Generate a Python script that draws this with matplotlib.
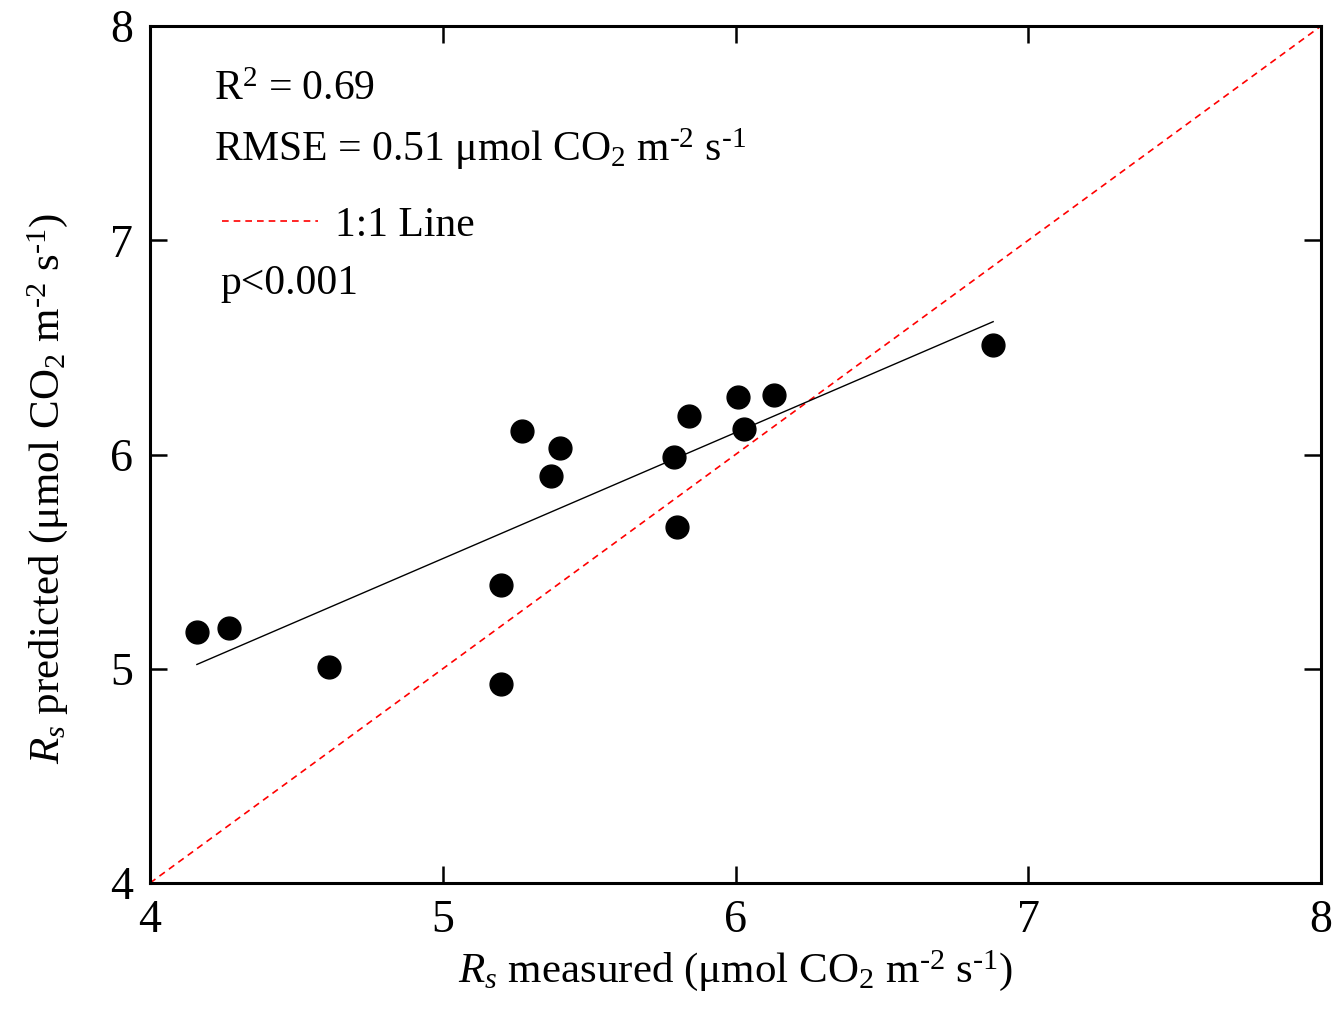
import numpy as np
import matplotlib
matplotlib.use("Agg")
import matplotlib.pyplot as plt

plt.rcParams['font.family'] = ['Liberation Serif', 'DejaVu Serif']
plt.rcParams['mathtext.fontset'] = 'custom'
plt.rcParams['mathtext.rm'] = 'Liberation Serif'
plt.rcParams['mathtext.it'] = 'Liberation Serif:italic'

# measured vs predicted Rs
measured = [4.16, 4.27, 4.61, 5.20, 5.20, 5.27, 5.37, 5.40, 5.79, 5.80, 5.84, 6.01, 6.03, 6.13, 6.88]
predicted = [5.17, 5.19, 5.01, 5.39, 4.93, 6.11, 5.90, 6.03, 5.99, 5.66, 6.18, 6.27, 6.12, 6.28, 6.51]

# regression line ends
fit_x = [4.16, 6.88]
fit_y = [5.02, 6.62]

one_to_one = [4, 8]

units = r'($\mathrm{\mu}$mol CO$_2$ m$^{\mathrm{‐}2}$ s$^{\mathrm{‐}1}$)'

fig = plt.figure(figsize=(13.41, 10.09), dpi=100)
ax = fig.add_axes([0.1119, 0.1249, 0.8732, 0.8493])

ax.plot(one_to_one, one_to_one, color='red', linestyle='--', linewidth=1.2,
        dashes=(4, 3), label='1:1 Line')
ax.plot(fit_x, fit_y, color='black', linewidth=1.0)
ax.scatter(measured, predicted, s=270, color='black', zorder=3)

ax.set_xlim(4, 8)
ax.set_ylim(4, 8)
ax.set_xticks([4, 5, 6, 7, 8])
ax.set_yticks([4, 5, 6, 7, 8])

for s in ax.spines.values():
    s.set_linewidth(2.2)
ax.tick_params(direction='in', length=12, width=1.8, labelsize=33,
               top=True, right=True, pad=12)

ax.set_xlabel(r'$R_s$ measured ' + units, fontsize=31, labelpad=4)
ax.set_ylabel(r'$R_s$ predicted ' + units, fontsize=31)
ax.yaxis.set_label_coords(-0.068, 0.46)

ax.text(0.055, 0.926, r'R$^2$ = 0.69', transform=ax.transAxes, fontsize=30, va='center')
ax.text(0.055, 0.856, r'RMSE = 0.51 $\mathrm{\mu}$mol CO$_2$ m$^{\mathrm{‐}2}$ s$^{\mathrm{‐}1}$',
        transform=ax.transAxes, fontsize=30, va='center')
ax.text(0.06, 0.699, 'p<0.001', transform=ax.transAxes, fontsize=30, va='center')

leg = ax.legend(loc='center left', bbox_to_anchor=(0.0615, 0.767), frameon=False,
                fontsize=30, handlelength=2.3, handletextpad=0.4,
                borderpad=0, borderaxespad=0)

fig.savefig('out.png', dpi=100)
